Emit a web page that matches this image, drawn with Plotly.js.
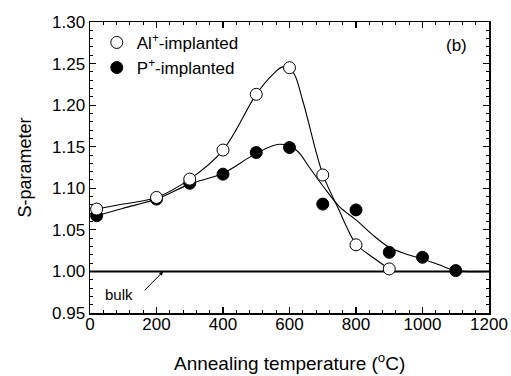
<!DOCTYPE html>
<html>
<head>
<meta charset="utf-8">
<script src="https://cdn.plot.ly/plotly-3.0.1.min.js"></script>
<style>html,body{margin:0;padding:0;background:#fff;}#chart{width:511px;height:376px;}</style>
</head>
<body>
<div id="chart"></div>
<script>
// Measured data points
const tempAl = [20, 200, 300, 400, 500, 600, 700, 800, 900];
const sAl = [1.075, 1.089, 1.111, 1.146, 1.213, 1.245, 1.116, 1.032, 1.003];
const tempP = [20, 200, 300, 400, 500, 600, 700, 800, 900, 1000, 1100];
const sP = [1.067, 1.087, 1.106, 1.117, 1.143, 1.149, 1.081, 1.074, 1.023, 1.017, 1.001];

// Guide curves
const curveAlX = [20, 100, 200, 300, 400, 500, 550, 580, 610, 640, 700, 750, 770, 800, 850, 900];
const curveAlY = [1.075, 1.081, 1.089, 1.111, 1.146, 1.213, 1.237, 1.246, 1.240, 1.205, 1.117, 1.073, 1.055, 1.033, 1.017, 1.003];
const curvePX = [20, 100, 200, 300, 400, 500, 570, 620, 660, 700, 750, 800, 850, 900, 950, 1000, 1050, 1100, 1200];
const curvePY = [1.067, 1.076, 1.087, 1.105, 1.118, 1.142, 1.153, 1.146, 1.125, 1.103, 1.078, 1.062, 1.044, 1.029, 1.021, 1.015, 1.008, 1.001, 1.000];

// Bulk reference line
const bulkX = [0, 1200];
const bulkY = [1.0, 1.0];

const seriesNames = ['Al<sup>+</sup>-implanted', 'P<sup>+</sup>-implanted'];
const xTitle = 'Annealing temperature (<sup>o</sup>C)';
const yTitle = 'S-parameter';

const FONT = 'Liberation Sans, Arial, Helvetica, sans-serif';

const traces = [
  {x: bulkX, y: bulkY, mode: 'lines', line: {color: '#000', width: 2}, showlegend: false, hoverinfo: 'skip'},
  {x: curvePX, y: curvePY, mode: 'lines', line: {color: '#000', width: 1.1, shape: 'spline', smoothing: 1}, showlegend: false, hoverinfo: 'skip'},
  {x: curveAlX, y: curveAlY, mode: 'lines', line: {color: '#000', width: 1.1, shape: 'spline', smoothing: 1}, showlegend: false, hoverinfo: 'skip'},
  {x: tempAl, y: sAl, mode: 'markers', name: seriesNames[0],
   marker: {symbol: 'circle', size: 12, color: '#fff', line: {color: '#000', width: 1}}},
  {x: tempP, y: sP, mode: 'markers', name: seriesNames[1],
   marker: {symbol: 'circle', size: 12, color: '#000', line: {color: '#000', width: 1}}}
];
// draw P markers beneath Al markers but keep legend order Al, P
const ordered = [traces[0], traces[1], traces[2], traces[4], traces[3]];

const layout = {
  width: 511, height: 376,
  margin: {l: 90, r: 22, t: 22, b: 63},
  paper_bgcolor: '#fff', plot_bgcolor: '#fff',
  font: {family: FONT, size: 17, color: '#000'},
  showlegend: true,
  legend: {x: 0.017, y: 0.99, xanchor: 'left', yanchor: 'top', bgcolor: 'rgba(0,0,0,0)',
           font: {family: FONT, size: 17, color: '#000'}, traceorder: 'reversed', tracegroupgap: 0},
  xaxis: {
    range: [0, 1200], dtick: 200, tick0: 0,
    ticks: 'inside', ticklen: 6, tickwidth: 1.2, tickcolor: '#000',
    minor: {dtick: 40, ticks: 'inside', ticklen: 3, tickwidth: 1, tickcolor: '#000'},
    showline: true, linecolor: '#000', linewidth: 1.5, mirror: 'allticks',
    showgrid: false, zeroline: false,
    ticklabelstandoff: -5,
    tickfont: {family: FONT, size: 17, color: '#000'}
  },
  yaxis: {
    range: [0.95, 1.30], dtick: 0.05, tick0: 0.95, tickformat: '.2f',
    ticks: 'inside', ticklen: 6, tickwidth: 1.2, tickcolor: '#000',
    minor: {dtick: 0.01, ticks: 'inside', ticklen: 3, tickwidth: 1, tickcolor: '#000'},
    showline: true, linecolor: '#000', linewidth: 1.5, mirror: 'allticks',
    showgrid: false, zeroline: false,
    tickfont: {family: FONT, size: 17, color: '#000'},
    title: {text: yTitle, font: {family: FONT, size: 18, color: '#000'}, standoff: 15}
  },
  annotations: [
    {x: 0.5, y: -0.168, xref: 'paper', yref: 'paper', xanchor: 'center', yanchor: 'middle',
     text: xTitle, showarrow: false, font: {family: FONT, size: 19, color: '#000'}},
    {x: 220, y: 1.0, ax: 160, ay: 0.9755, xref: 'x', yref: 'y', axref: 'x', ayref: 'y',
     showarrow: true, arrowhead: 2, arrowsize: 0.8, arrowwidth: 1, arrowcolor: '#000', text: '', standoff: 0},
    {x: 88, y: 0.972, xref: 'x', yref: 'y', text: 'bulk', showarrow: false,
     font: {family: FONT, size: 15, color: '#000'}},
    {x: 0.95, y: 0.96, xref: 'paper', yref: 'paper', text: '(b)', showarrow: false,
     font: {family: FONT, size: 17, color: '#000'}}
  ]
};

Plotly.newPlot('chart', ordered, layout, {displayModeBar: false, staticPlot: true});
</script>
</body>
</html>
